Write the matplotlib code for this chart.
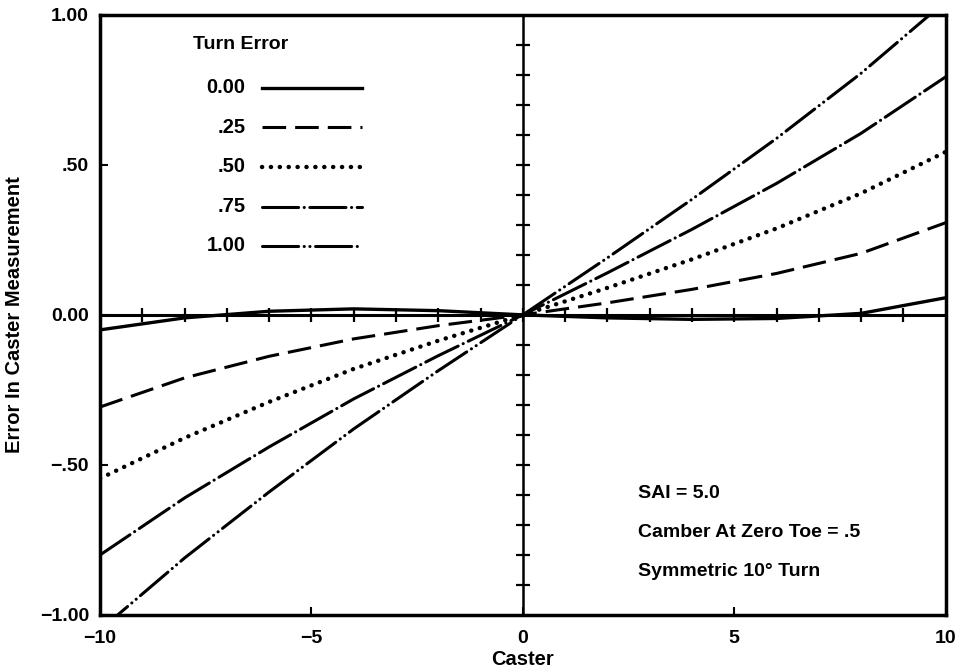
import numpy as np
from matplotlib import pyplot as plt

plt.rcParams['font.family'] = ['Liberation Sans', 'DejaVu Sans']
plt.rcParams['lines.scale_dashes'] = False

# caster values where the curves were read
caster = [-10, -8, -6, -4, -2, 0, 2, 4, 6, 8, 10]
turn_error = ['0.00', '.25', '.50', '.75', '1.00']
err_000 = [-0.05, -0.01, 0.012, 0.02, 0.014, 0.0, -0.01, -0.015, -0.012, 0.005, 0.057]
err_025 = [-0.307, -0.21, -0.138, -0.08, -0.036, 0.0, 0.04, 0.085, 0.138, 0.205, 0.307]
err_050 = [-0.545, -0.41, -0.29, -0.18, -0.086, 0.0, 0.09, 0.185, 0.288, 0.405, 0.543]
err_075 = [-0.80, -0.61, -0.44, -0.28, -0.136, 0.0, 0.14, 0.285, 0.438, 0.605, 0.793]
err_100 = [-1.05, -0.81, -0.59, -0.38, -0.186, 0.0, 0.19, 0.385, 0.588, 0.805, 1.045]

x_ticks = [-10, -5, 0, 5, 10]
x_ticklabels = ['\u221210', '\u22125', '0', '5', '10']
y_ticks = [-1.0, -0.5, 0.0, 0.5, 1.0]
y_ticklabels = ['\u22121.00', '\u2212.50', '0.00', '.50', '1.00']

styles = [
    dict(ls='-', lw=2.4),
    dict(ls=(0, (17, 6.5)), lw=2.2),
    dict(ls=(0, (0.1, 6.3)), lw=3.2, dash_capstyle='round'),
    dict(ls=(0, (26, 4, 0.1, 4)), lw=2.2, dash_capstyle='round'),
    dict(ls=(0, (26, 4, 0.1, 4, 0.1, 4)), lw=2.2, dash_capstyle='round'),
]
series = [err_000, err_025, err_050, err_075, err_100]

fig = plt.figure(figsize=(9.62, 6.71), dpi=100)
ax = fig.add_axes([0.104, 0.0835, 0.879, 0.8945])
ax.set_xlim(-10, 10)
ax.set_ylim(-1, 1)

# centre cross with its own tick marks
ax.axhline(0, c='black', lw=2.2)
ax.axvline(0, c='black', lw=1.8)
ax.plot(np.arange(-9, 10), np.zeros(19), ls='none', marker='|', ms=10, mew=1.6, c='black')
ax.plot(np.zeros(19), np.arange(-9, 10) / 10, ls='none', marker='_', ms=10, mew=1.6, c='black')

for vals, st in zip(series, styles):
    ax.plot(caster, vals, c='black', **st)

ax.set_xticks(x_ticks)
ax.set_xticklabels(x_ticklabels)
ax.set_yticks(y_ticks)
ax.set_yticklabels(y_ticklabels)
ax.tick_params(direction='in', length=6, width=1.5, labelsize=14, pad=8)
ax.tick_params(axis='x', pad=11)
for lab in ax.get_xticklabels() + ax.get_yticklabels():
    lab.set_fontweight('bold')
for sp in ax.spines.values():
    sp.set_linewidth(2.5)

ax.set_xlabel('Caster', fontsize=14.5, fontweight='bold', labelpad=2)
ax.set_ylabel('Error In Caster Measurement', fontsize=14.5, fontweight='bold')
ax.yaxis.set_label_coords(-0.09, 0.5)

# hand-made legend
ax.text(0.11, 0.95, 'Turn Error', transform=ax.transAxes, fontsize=14,
        fontweight='bold', va='center', ha='left')
leg_y = [0.878, 0.813, 0.747, 0.68, 0.615]
for lab, yy, st in zip(turn_error, leg_y, styles):
    ax.text(0.172, yy, lab, transform=ax.transAxes, fontsize=14.5,
            fontweight='bold', va='center', ha='right')
    ax.plot([0.192, 0.31], [yy, yy], transform=ax.transAxes, c='black', **st)

notes = ['SAI = 5.0', 'Camber At Zero Toe = .5', 'Symmetric 10\u00b0 Turn']
for yy, t in zip([0.203, 0.138, 0.072], notes):
    ax.text(0.636, yy, t, transform=ax.transAxes, fontsize=14, fontweight='bold',
            va='center', ha='left')

fig.savefig('out.png', dpi=100)
